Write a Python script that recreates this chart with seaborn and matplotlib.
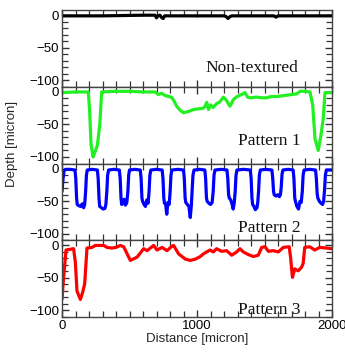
import matplotlib
matplotlib.use("Agg")
import matplotlib.pyplot as plt
import pandas as pd
import seaborn as sns
from matplotlib.ticker import MultipleLocator, FixedLocator

# ---------------- data ----------------
labels = ["Non-textured", "Pattern 1", "Pattern 2", "Pattern 3"]
colors = ["#000000", "#22f022", "#0000ff", "#ff0000"]

nt_x = [0, 300, 600, 690, 700, 712, 725, 740, 750, 760, 900, 1200, 1215, 1230, 1245, 1260,
        1500, 1570, 1585, 1600, 2000]
nt_y = [-1, -1, 0, 0, -4, -1, 0, -4, -5, -1, -1, -1, -2, -5, -2, -1,
        -1, -1, -3, -1, -1]

p1_x = [0, 100, 195, 205, 215, 230, 245, 262, 280, 294, 400, 500, 600, 689, 714, 738, 760, 788,
        810, 825, 850, 875, 900, 937, 974, 1010, 1047, 1060, 1072, 1085, 1101, 1120, 1145, 1170,
        1195, 1215, 1244, 1260, 1269, 1290, 1318, 1340, 1355, 1375, 1393, 1442, 1480, 1516, 1550,
        1590, 1630, 1664, 1700, 1738, 1763, 1800, 1837, 1857, 1874, 1898, 1918, 1935, 1948, 2000]
p1_y = [-1, 0, 0, -30, -80, -100, -92, -82, -50, 0, 1, 1, 0, 0, -4, -2, -5, -7,
        -8, -12, -22, -28, -32, -30, -27, -26, -25, -22, -16, -27, -20, -24, -18, -15,
        -8, -12, -22, -16, -12, -8, -5, -3, -1, -8, -9, -8, -9, -9, -7,
        -7, -6, -5, -4, -3, 1, 1, 0, -20, -72, -90, -67, -41, -1, -1]

p2_x = [0, 8, 15, 25, 60,
        96, 102, 108, 113, 125, 138, 150, 160, 168, 175, 181, 187, 225,
        262, 268, 274, 279, 292, 305, 318, 325, 332, 338, 345, 385,
        425, 431, 437, 442, 452, 460, 470, 480, 488, 494, 500, 540,
        580, 586, 592, 597, 608, 618, 628, 638, 645, 651, 658, 700,
        742, 748, 754, 759, 768, 776, 784, 794, 801, 807, 814, 860,
        900, 906, 912, 917, 928, 940, 950, 958, 964, 970, 978, 1020,
        1058, 1064, 1070, 1075, 1088, 1100, 1112, 1120, 1126, 1133, 1180,
        1222, 1228, 1234, 1239, 1250, 1260, 1268, 1276, 1283, 1289, 1296, 1345,
        1395, 1401, 1407, 1412, 1422, 1432, 1444, 1450, 1456, 1462, 1469, 1510,
        1555, 1561, 1567, 1572, 1585, 1598, 1610, 1618, 1624, 1630, 1637, 1675,
        1712, 1718, 1724, 1729, 1740, 1752, 1763, 1772, 1780, 1786, 1793, 1835,
        1878, 1884, 1890, 1895, 1906, 1918, 1930, 1938, 1945, 1951, 1958, 2000]
p2_y = [-35, -15, -4, -1, -1,
        -2, -15, -45, -55, -57, -58, -54, -60, -55, -35, -10, -2, -1,
        -2, -15, -45, -58, -60, -62, -61, -55, -35, -10, -2, -1,
        -2, -15, -45, -55, -53, -47, -56, -52, -35, -10, -2, -1,
        -2, -15, -45, -50, -55, -58, -48, -53, -35, -10, -2, -1,
        -2, -15, -45, -53, -55, -70, -52, -55, -35, -10, -2, -1,
        -2, -15, -45, -52, -55, -58, -75, -57, -35, -10, -2, -1,
        -2, -15, -45, -50, -53, -55, -52, -35, -10, -2, -1,
        -2, -15, -40, -45, -48, -55, -62, -52, -35, -10, -2, -1,
        -2, -15, -45, -55, -58, -63, -60, -52, -35, -10, -2, -1,
        -2, -15, -35, -40, -42, -40, -43, -40, -28, -8, -2, -1,
        -2, -15, -45, -50, -58, -62, -50, -52, -35, -10, -2, -1,
        -2, -15, -38, -45, -50, -53, -55, -50, -32, -10, -2, -2]

p3_x = [0, 12, 30, 86, 99, 111, 136, 153, 168, 185, 222, 247, 309, 333, 370, 400, 432, 457,
        506, 556, 605, 630, 679, 704, 741, 778, 815, 827, 864, 914, 951, 988, 1025, 1047,
        1096, 1121, 1145, 1182, 1219, 1257, 1294, 1318, 1343, 1380, 1417, 1454, 1479, 1504,
        1528, 1565, 1602, 1639, 1683, 1693, 1707, 1724, 1749, 1773, 1786, 1798, 1835, 1872,
        1909, 1959, 2000]
p3_y = [-83, -49, -7, -5, -26, -70, -83, -72, -59, -4, -3, 0, 0, -3, -4, -3, 0, -2,
        -23, -18, -5, -8, 0, -7, -3, -8, -1, 0, -13, -21, -23, -21, -17, -13,
        -7, -10, -5, -9, -8, -15, -10, -5, -10, -14, -17, -15, -3, -2,
        -9, -8, -10, -3, -2, -18, -49, -36, -39, -34, -28, -3, -2, -7,
        -3, -4, -5]

series_x = [nt_x, p1_x, p2_x, p3_x]
series_y = [nt_y, p1_y, p2_y, p3_y]

x_major = [0, 1000, 2000]
y_major = [0, -50, -100]

# ---------------- figure ----------------
sns.set_style("ticks")
plt.rcParams['font.family'] = ['Liberation Sans', 'DejaVu Sans']
plt.rcParams['axes.unicode_minus'] = True

fig, axes = plt.subplots(4, 1, figsize=(3.45, 3.54), dpi=100, sharex=True)
fig.subplots_adjust(left=62 / 345, right=332 / 345, top=1 - 10 / 354,
                    bottom=1 - 317 / 354, hspace=0)

text_pos = [(0.704, 0.196), (0.767, 0.241), (0.767, 0.111), (0.767, 0.039)]

for i, ax in enumerate(axes):
    df = pd.DataFrame({"Distance": series_x[i], "Depth": series_y[i]})
    sns.lineplot(data=df, x="Distance", y="Depth", ax=ax, color=colors[i],
                 linewidth=2.3, sort=False, estimator=None)
    ax.set_xlim(0, 2000)
    ax.set_ylim(-110, 8)
    ax.set_xlabel("")
    ax.set_ylabel("")
    ax.yaxis.set_major_locator(FixedLocator(y_major))
    ax.yaxis.set_minor_locator(MultipleLocator(10))
    ax.xaxis.set_major_locator(FixedLocator(x_major))
    ax.xaxis.set_minor_locator(MultipleLocator(100))
    ax.tick_params(which="both", direction="in", top=True, right=True,
                   colors="#333333", labelcolor="black", labelsize=9.5, pad=2)
    ax.tick_params(which="major", length=5, width=1)
    ax.tick_params(which="minor", length=4, width=0.9)
    for sp in ax.spines.values():
        sp.set_color("#444444")
        sp.set_linewidth(1.0)
    tx, ty = text_pos[i]
    ax.text(tx, ty, labels[i], transform=ax.transAxes, ha="center", va="baseline",
            fontsize=12.5, family=["Liberation Serif", "DejaVu Serif"], color="#111111")
    if i < 3:
        ax.tick_params(labelbottom=False)

axes[-1].set_xlabel("Distance [micron]", fontsize=9.5, labelpad=1)
fig.text(12 / 345, 1 - 144 / 354, "Depth [micron]", rotation=90, ha="center",
         va="center", fontsize=9.5)

fig.savefig("out.png", dpi=100)
